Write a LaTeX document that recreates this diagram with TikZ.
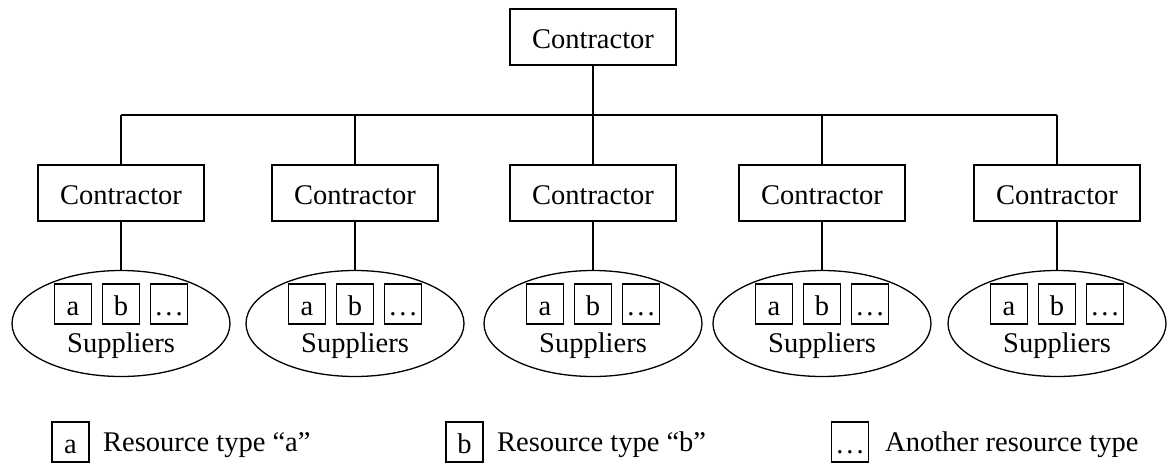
\documentclass[tikz,border=0pt]{standalone}
\usepackage{fontspec}
\setmainfont{Liberation Serif}
\usetikzlibrary{shapes.geometric}
\begin{document}
\begin{tikzpicture}[x=1pt,y=-1pt,
  every node/.style={font=\fontsize{28.5}{32}\selectfont},
  ln/.style={line width=1.3pt},
  cbox/.style={draw,ln,minimum width=166pt,minimum height=56pt,inner sep=0pt,text height=22pt,text depth=0pt},
  sup/.style={draw,ln,ellipse,minimum width=218pt,minimum height=106pt,inner sep=0pt},
  rbox/.style={draw,ln,minimum width=37pt,minimum height=40pt,inner sep=0pt,text height=22pt,text depth=0pt},
  dots/.style={},
  ltext/.style={anchor=base west,inner sep=0pt}]
\useasboundingbox (0,0) rectangle (1172,463);
\node[cbox] (top) at (593,37) {Contractor};
\coordinate (bus) at (593,115);
\foreach \i/\x in {1/121,2/355,3/593,4/822,5/1057}{
  \node[cbox] (c\i) at (\x,193) {Contractor};
  \node[sup] (s\i) at (\x,323.5) {};
  \node[rbox] (s\i a) at (\x-48,304) {a};
  \node[rbox] (s\i b) at (\x,304) {b};
  \node[rbox] (s\i c) at (\x+48,304) {.\kern3pt.\kern3pt.};
  \node[inner sep=0pt,anchor=base] (s\i t) at (\x,352) {Suppliers};
  \draw[ln] (c\i.north) -- (c\i.north |- bus);
  \draw[ln] (c\i.south) -- (s\i.north);
}
\draw[ln] (top.south) -- (bus);
\draw[ln] (c1.north |- bus) -- (c5.north |- bus);
% legend
\node[rbox] (la) at (70.5,442) {a};
\node[ltext] (lat) at (103,451) {Resource type “a”};
\node[rbox] (lb) at (464.5,442) {b};
\node[ltext] (lbt) at (497,451) {Resource type “b”};
\node[rbox] (lc) at (850,442) {.\kern3pt.\kern3pt.};
\node[ltext] (lct) at (885,451) {Another resource type};
\end{tikzpicture}
\end{document}
